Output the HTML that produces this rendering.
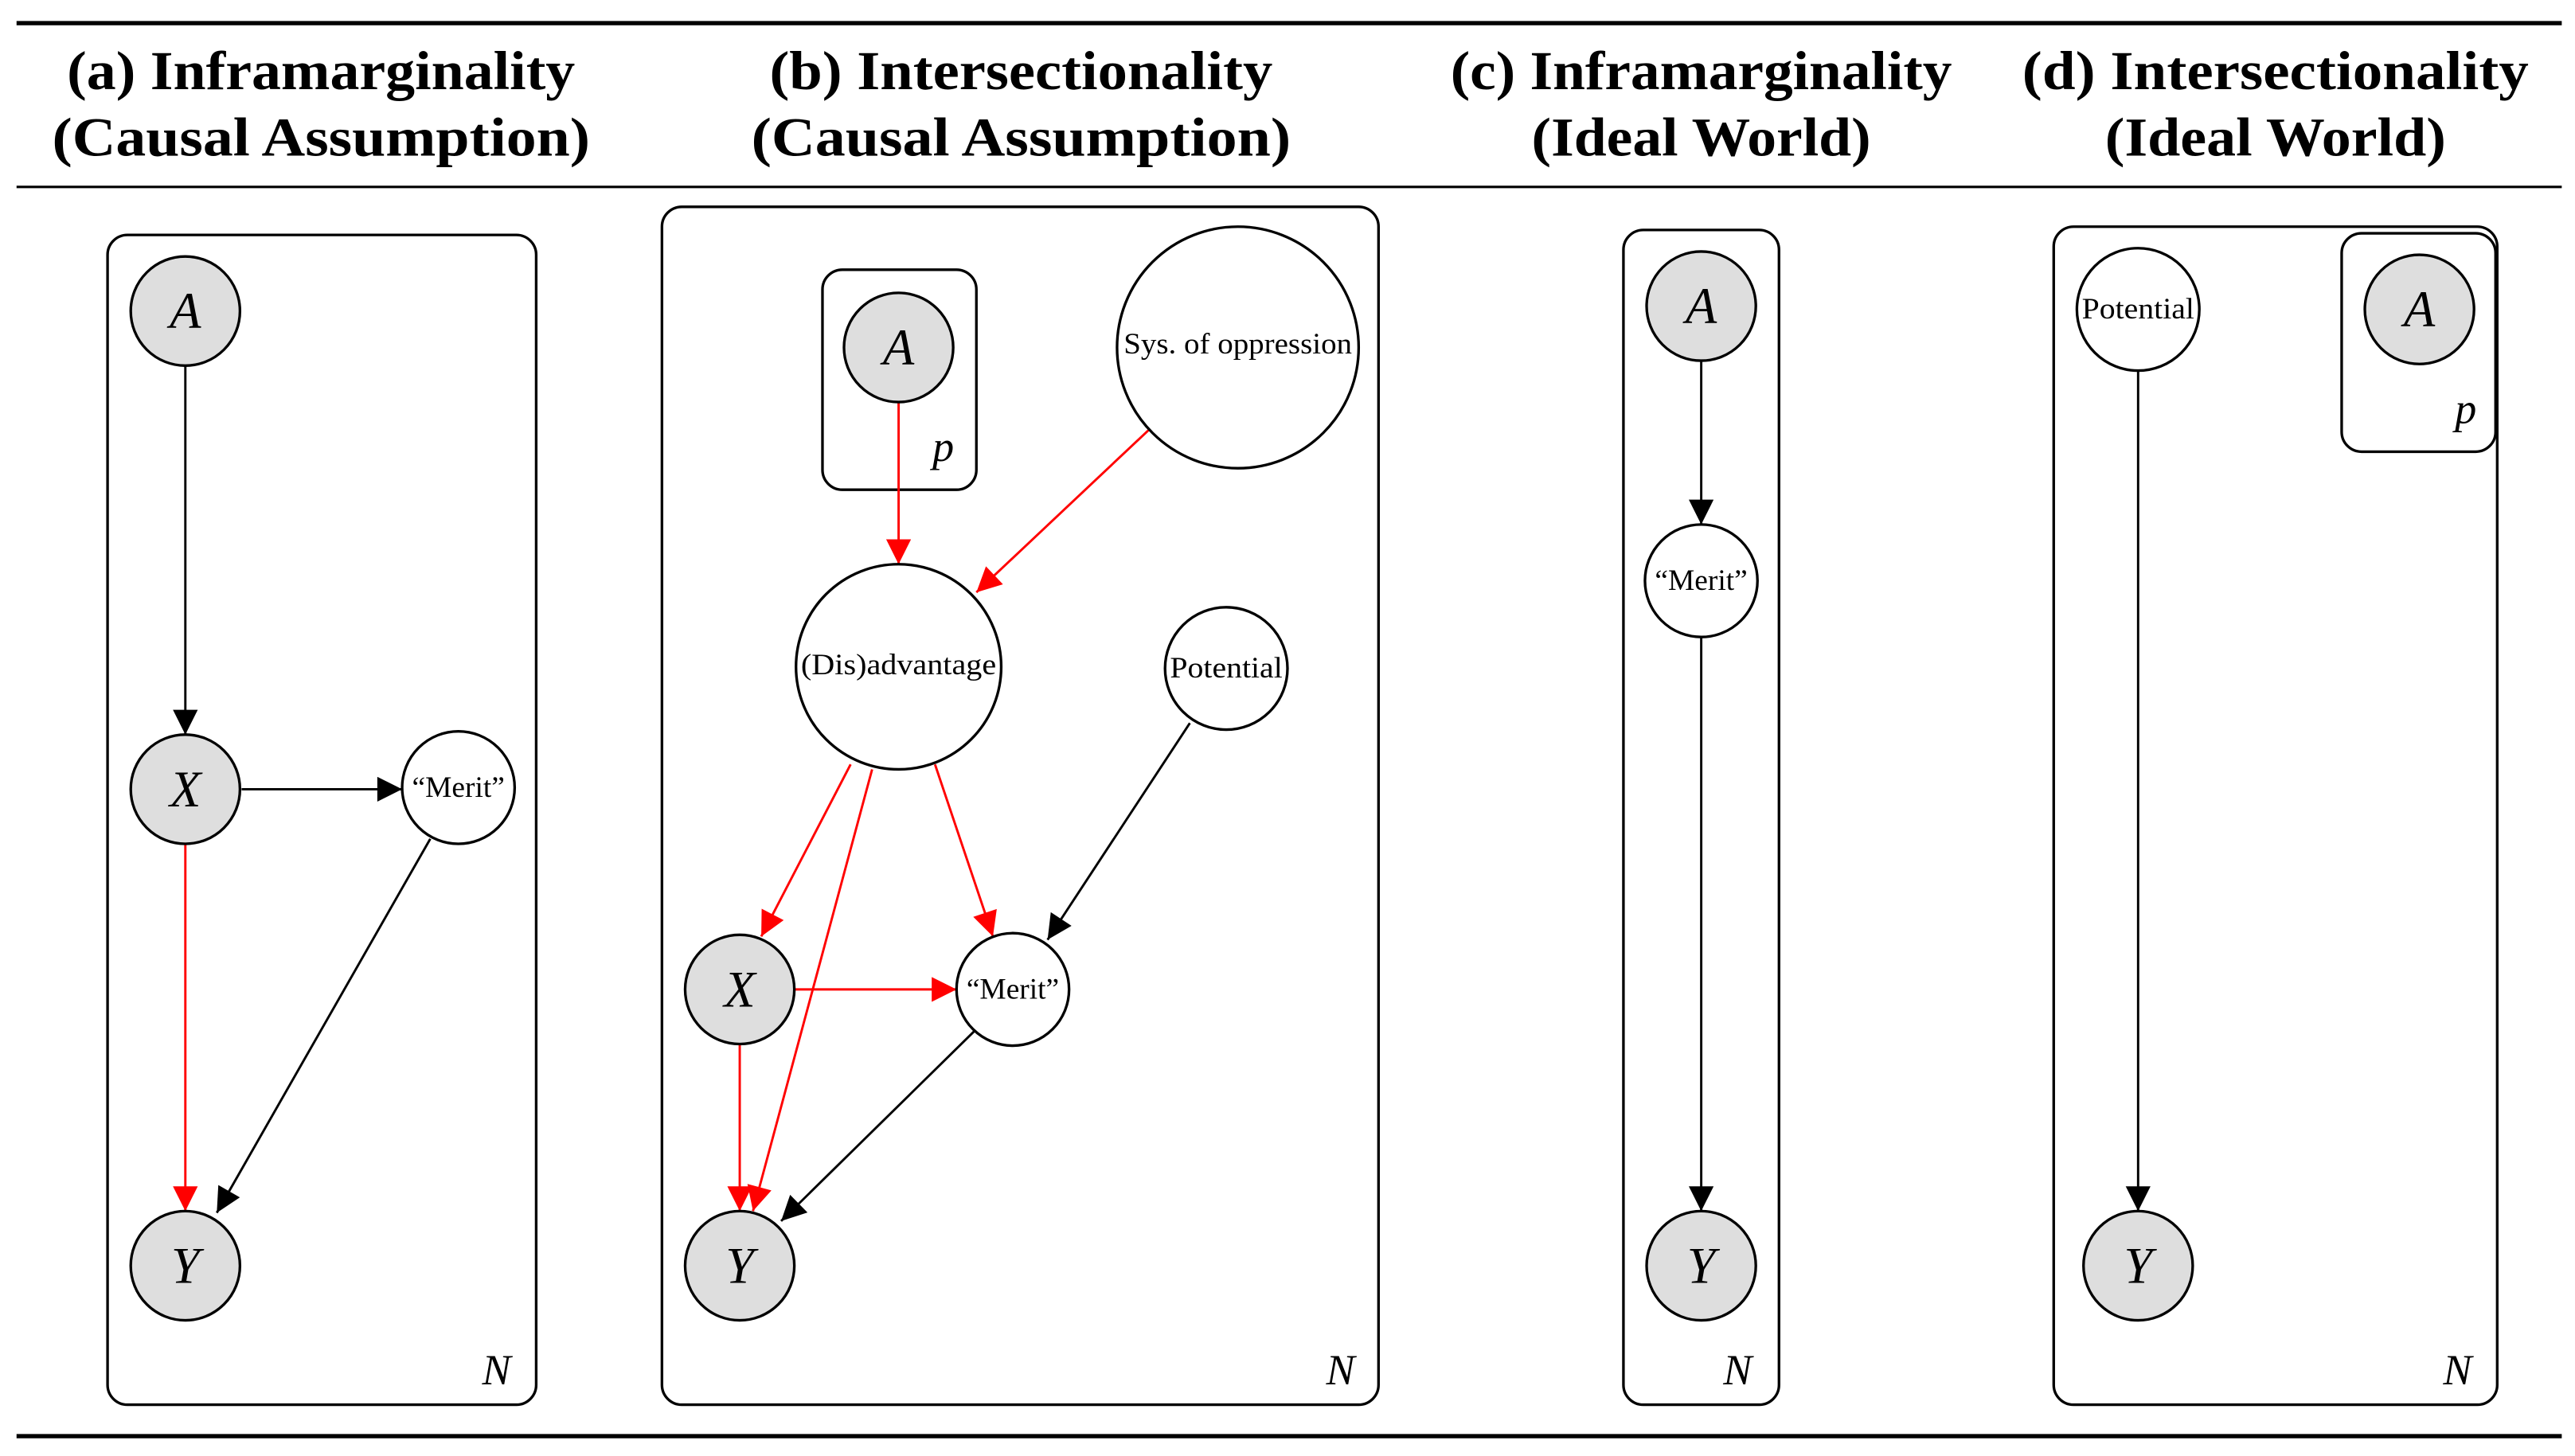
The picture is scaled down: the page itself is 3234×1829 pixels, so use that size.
<!DOCTYPE html>
<html><head><meta charset="utf-8"><style>
html,body{margin:0;padding:0;background:#fff;}
svg{display:block;}
text{font-family:"Liberation Serif",serif;fill:#000;}
.t{font-weight:bold;font-size:33px;text-anchor:middle;}
.v{font-style:italic;font-size:31px;text-anchor:middle;dominant-baseline:central;}
.s{font-size:18px;text-anchor:middle;dominant-baseline:central;}
.pl{fill:none;stroke:#000;stroke-width:1.6;}
.g{fill:#dedede;stroke:#000;stroke-width:1.6;}
.w{fill:#fff;stroke:#000;stroke-width:1.6;}
.e{stroke:#000;stroke-width:1.4;fill:none;marker-end:url(#ab);}
.r{stroke:#f00;stroke-width:1.4;fill:none;marker-end:url(#ar);}
</style></head><body>
<svg width="3234" height="1829" viewBox="0 0 1556 880" preserveAspectRatio="none" xmlns="http://www.w3.org/2000/svg">
<defs>
<marker id="ab" viewBox="0 0 10 10" refX="10" refY="5" markerWidth="17" markerHeight="15" markerUnits="userSpaceOnUse" orient="auto"><path d="M0,0 L10,5 L0,10 z" fill="#000"/></marker>
<marker id="ar" viewBox="0 0 10 10" refX="10" refY="5" markerWidth="17" markerHeight="15" markerUnits="userSpaceOnUse" orient="auto"><path d="M0,0 L10,5 L0,10 z" fill="#f00"/></marker>
</defs>
<line x1="10" y1="14" x2="1548" y2="14" stroke="#000" stroke-width="2.6"/>
<line x1="10" y1="113" x2="1548" y2="113" stroke="#000" stroke-width="1.5"/>
<line x1="10" y1="868" x2="1548" y2="868" stroke="#000" stroke-width="2.6"/>
<text class="t" x="194" y="54" textLength="307" lengthAdjust="spacingAndGlyphs">(a) Inframarginality</text>
<text class="t" x="194" y="94" textLength="325" lengthAdjust="spacingAndGlyphs">(Causal Assumption)</text>
<text class="t" x="617" y="54" textLength="304" lengthAdjust="spacingAndGlyphs">(b) Intersectionality</text>
<text class="t" x="617" y="94" textLength="326" lengthAdjust="spacingAndGlyphs">(Causal Assumption)</text>
<text class="t" x="1028" y="54" textLength="303" lengthAdjust="spacingAndGlyphs">(c) Inframarginality</text>
<text class="t" x="1028" y="94" textLength="205" lengthAdjust="spacingAndGlyphs">(Ideal World)</text>
<text class="t" x="1375" y="54" textLength="306" lengthAdjust="spacingAndGlyphs">(d) Intersectionality</text>
<text class="t" x="1375" y="94" textLength="206" lengthAdjust="spacingAndGlyphs">(Ideal World)</text>

<!-- a -->
<rect class="pl" x="65" y="142" width="259" height="707" rx="12"/>
<line class="e" x1="112" y1="221" x2="112" y2="444"/>
<line class="e" x1="146" y1="477" x2="243" y2="477"/>
<line class="r" x1="112" y1="510" x2="112" y2="732"/>
<line class="e" x1="260" y1="507" x2="131" y2="733"/>
<circle class="g" cx="112" cy="188" r="33"/><text class="v" x="112" y="188">A</text>
<circle class="g" cx="112" cy="477" r="33"/><text class="v" x="112" y="477">X</text>
<circle class="w" cx="277" cy="476" r="34"/><text class="s" x="277" y="476">“Merit”</text>
<circle class="g" cx="112" cy="765" r="33"/><text class="v" x="112" y="765">Y</text>
<text class="v" x="300" y="828" style="font-size:26px">N</text>

<!-- b -->
<rect class="pl" x="400" y="125" width="433" height="724" rx="12"/>
<rect class="pl" x="497" y="163" width="93" height="133" rx="12"/>
<line class="r" x1="543" y1="243" x2="543" y2="341"/>
<line class="r" x1="694" y1="260" x2="590" y2="358"/>
<line class="r" x1="514" y1="462" x2="460" y2="566"/>
<line class="r" x1="527" y1="465" x2="455" y2="732"/>
<line class="r" x1="565" y1="462" x2="600" y2="566"/>
<line class="r" x1="480" y1="598" x2="578" y2="598"/>
<line class="r" x1="447" y1="631" x2="447" y2="732"/>
<line class="e" x1="719" y1="437" x2="633" y2="568"/>
<line class="e" x1="589" y1="623" x2="472" y2="738"/>
<circle class="g" cx="543" cy="210" r="33"/><text class="v" x="543" y="210">A</text>
<text class="v" x="570" y="270" style="font-size:26px">p</text>
<circle class="w" cx="748" cy="210" r="73"/><text class="s" x="748" y="208" textLength="138" lengthAdjust="spacingAndGlyphs">Sys. of oppression</text>
<circle class="w" cx="543" cy="403" r="62"/><text class="s" x="543" y="402" textLength="118" lengthAdjust="spacingAndGlyphs">(Dis)advantage</text>
<circle class="w" cx="741" cy="404" r="37"/><text class="s" x="741" y="404" textLength="68" lengthAdjust="spacingAndGlyphs">Potential</text>
<circle class="g" cx="447" cy="598" r="33"/><text class="v" x="447" y="598">X</text>
<circle class="w" cx="612" cy="598" r="34"/><text class="s" x="612" y="598">“Merit”</text>
<circle class="g" cx="447" cy="765" r="33"/><text class="v" x="447" y="765">Y</text>
<text class="v" x="810" y="828" style="font-size:26px">N</text>

<!-- c -->
<rect class="pl" x="981" y="139" width="94" height="710" rx="12"/>
<line class="e" x1="1028" y1="218" x2="1028" y2="317"/>
<line class="e" x1="1028" y1="385" x2="1028" y2="732"/>
<circle class="g" cx="1028" cy="185" r="33"/><text class="v" x="1028" y="185">A</text>
<circle class="w" cx="1028" cy="351" r="34"/><text class="s" x="1028" y="351">“Merit”</text>
<circle class="g" cx="1028" cy="765" r="33"/><text class="v" x="1028" y="765">Y</text>
<text class="v" x="1050" y="828" style="font-size:26px">N</text>

<!-- d -->
<rect class="pl" x="1241" y="137" width="268" height="712" rx="12"/>
<rect class="pl" x="1415" y="141" width="93" height="132" rx="12"/>
<line class="e" x1="1292" y1="224" x2="1292" y2="732"/>
<circle class="w" cx="1292" cy="187" r="37"/><text class="s" x="1292" y="187" textLength="68" lengthAdjust="spacingAndGlyphs">Potential</text>
<circle class="g" cx="1462" cy="187" r="33"/><text class="v" x="1462" y="187">A</text>
<text class="v" x="1490" y="247" style="font-size:26px">p</text>
<circle class="g" cx="1292" cy="765" r="33"/><text class="v" x="1292" y="765">Y</text>
<text class="v" x="1485" y="828" style="font-size:26px">N</text>
</svg>
</body></html>
